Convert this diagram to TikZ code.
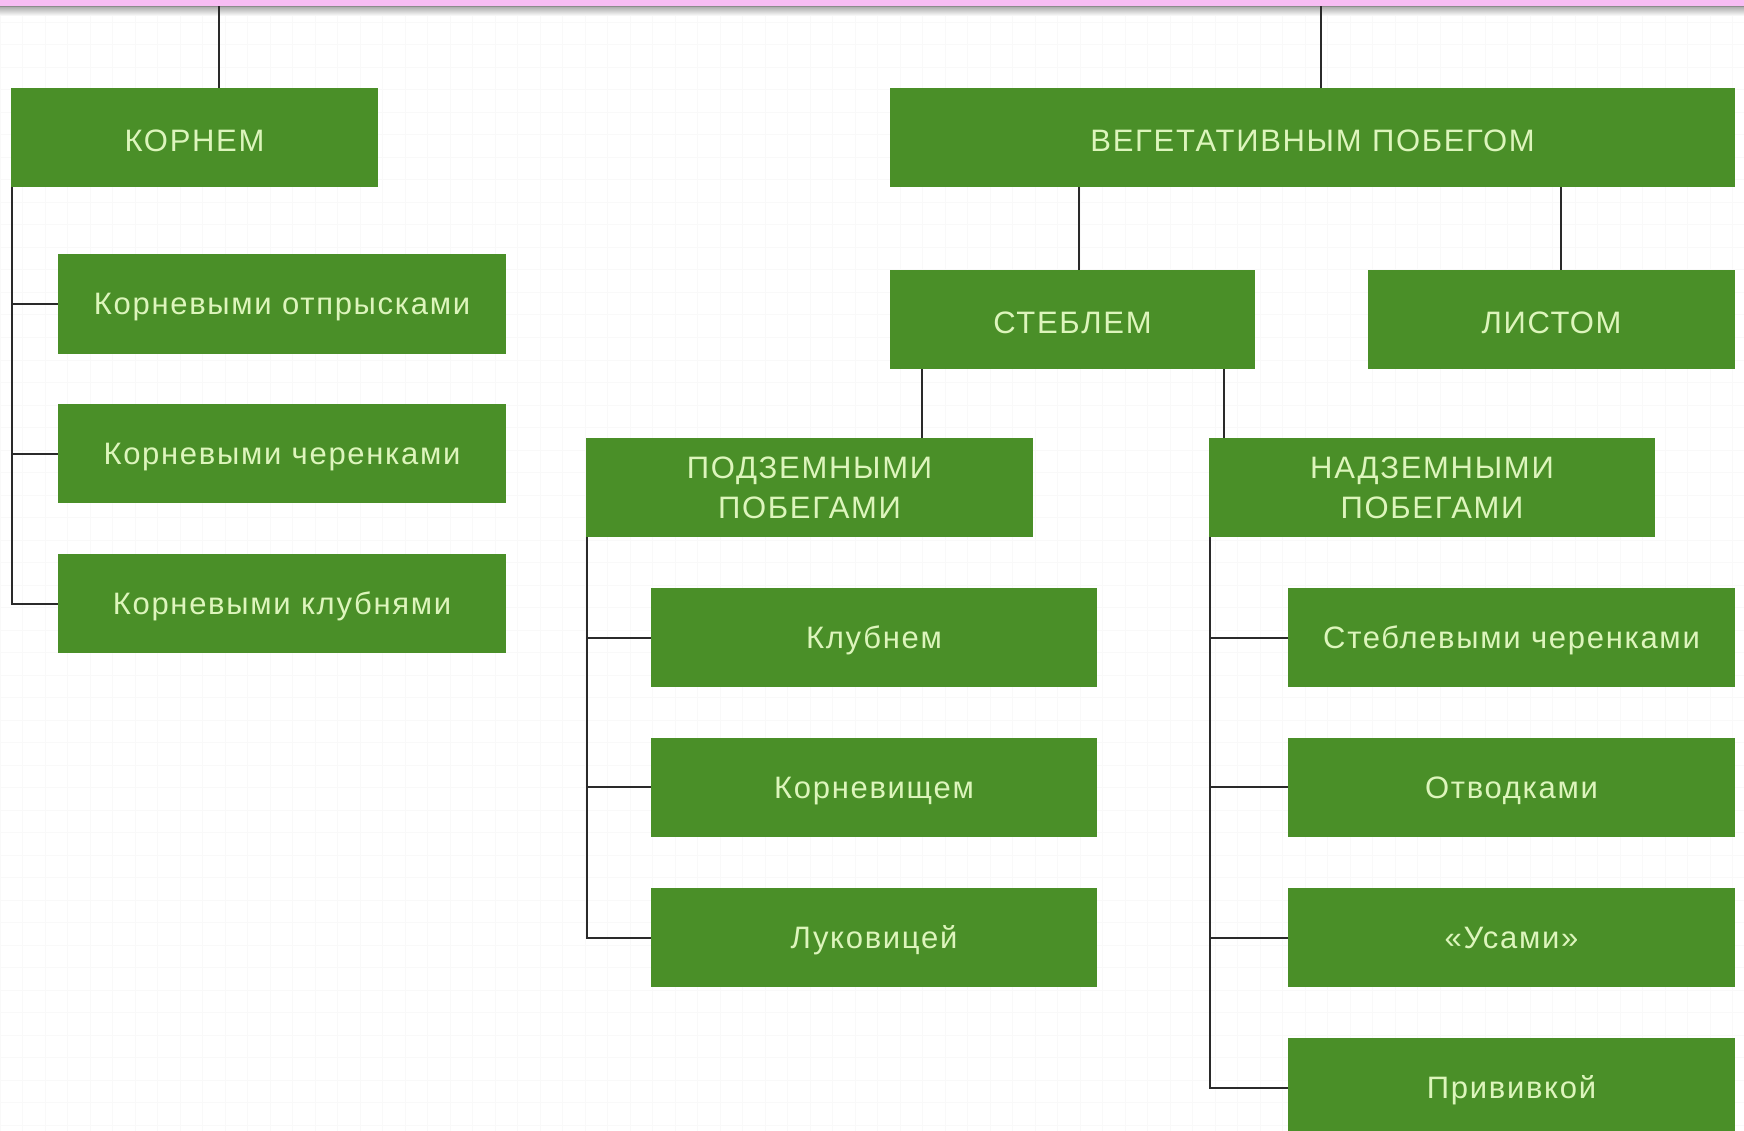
\documentclass[tikz,border=0pt]{standalone}
\usepackage{fontspec}
\setmainfont{Liberation Sans}
\newfontfamily\boxfont[LetterSpace=5.5]{Liberation Sans}
\definecolor{boxgreen}{HTML}{4A8F28}
\definecolor{txtgreen}{HTML}{DDF5BC}
\definecolor{barpink}{HTML}{F8BDF4}
\definecolor{lineclr}{HTML}{2A2A2A}
\begin{document}
\begin{tikzpicture}[x=1pt,y=-1pt,
  gbox/.style={rectangle, fill=boxgreen, draw=none, text=txtgreen, inner sep=0pt,
    font=\boxfont\fontsize{31}{40}\selectfont, align=center, minimum height=99pt},
  lowbox/.style={gbox, text height=22pt, text depth=0pt},
  capbox/.style={gbox, text height=28pt, text depth=0pt},
  conn/.style={draw=lineclr, line width=2pt}]
\useasboundingbox (0,0) rectangle (1744,1131);
\fill[white] (0,0) rectangle (1744,1131);
% faint grid background
\draw[black!2.5, line width=1pt, step=22.5pt] (0,0) grid (1744,1131);
% title bar
\shade[top color=black!35, bottom color=white] (0,6) rectangle (1744,16);
\node[rectangle, fill=barpink, draw=none, minimum width=1744pt, minimum height=6pt, inner sep=0pt, anchor=north west] (bar) at (0,0) {};
\draw[black!45, line width=1pt] (bar.south west) -- (bar.south east);

% level 1
\node[capbox, minimum width=367pt] (korn) at (194.5,137.5) {КОРНЕМ};
\node[capbox, minimum width=845pt] (veg) at (1312.5,137.5) {ВЕГЕТАТИВНЫМ ПОБЕГОМ};
% root children
\node[lowbox, minimum width=448pt] (k1) at (282,304) {Корневыми отпрысками};
\node[lowbox, minimum width=448pt] (k2) at (282,453.5) {Корневыми черенками};
\node[lowbox, minimum width=448pt] (k3) at (282,603.5) {Корневыми клубнями};
% level 2
\node[capbox, minimum width=365pt] (steb) at (1072.5,319.5) {СТЕБЛЕМ};
\node[capbox, minimum width=367pt] (list) at (1551.5,319.5) {ЛИСТОМ};
% level 3
\node[gbox, minimum width=447pt] (podz) at (809.5,487.5) {ПОДЗЕМНЫМИ\\ПОБЕГАМИ};
\node[gbox, minimum width=446pt] (nadz) at (1432,487.5) {НАДЗЕМНЫМИ\\ПОБЕГАМИ};
% underground children
\node[lowbox, minimum width=446pt] (p1) at (874,637.5) {Клубнем};
\node[lowbox, minimum width=446pt] (p2) at (874,787) {Корневищем};
\node[lowbox, minimum width=446pt] (p3) at (874,937.5) {Луковицей};
% above-ground children
\node[lowbox, minimum width=447pt] (n1) at (1511.5,637.5) {Стеблевыми черенками};
\node[lowbox, minimum width=447pt] (n2) at (1511.5,787) {Отводками};
\node[lowbox, minimum width=447pt] (n3) at (1511.5,937.5) {«Усами»};
\node[lowbox, minimum width=447pt] (n4) at (1511.5,1087.5) {Прививкой};

% connectors
\draw[conn] (bar.south -| 219,0) -- (korn.north -| 219,0);
\draw[conn] (bar.south -| 1321,0) -- (veg.north -| 1321,0);
\draw[conn] ([xshift=1pt]korn.south west) |- (k3.west);
\draw[conn] (k1.west) -- (k1.west -| korn.south west);
\draw[conn] (k2.west) -- (k2.west -| korn.south west);
\draw[conn] (veg.south -| 1079,0) -- (steb.north -| 1079,0);
\draw[conn] (veg.south -| 1561,0) -- (list.north -| 1561,0);
\draw[conn] (steb.south -| 922,0) -- (podz.north -| 922,0);
\draw[conn] (steb.south -| 1224,0) -- (nadz.north -| 1224,0);
\draw[conn] ([xshift=1pt]podz.south west) |- (p3.west);
\draw[conn] (p1.west) -- (p1.west -| podz.south west);
\draw[conn] (p2.west) -- (p2.west -| podz.south west);
\draw[conn] ([xshift=1pt]nadz.south west) |- (n4.west);
\draw[conn] (n1.west) -- (n1.west -| nadz.south west);
\draw[conn] (n2.west) -- (n2.west -| nadz.south west);
\draw[conn] (n3.west) -- (n3.west -| nadz.south west);
\end{tikzpicture}
\end{document}
